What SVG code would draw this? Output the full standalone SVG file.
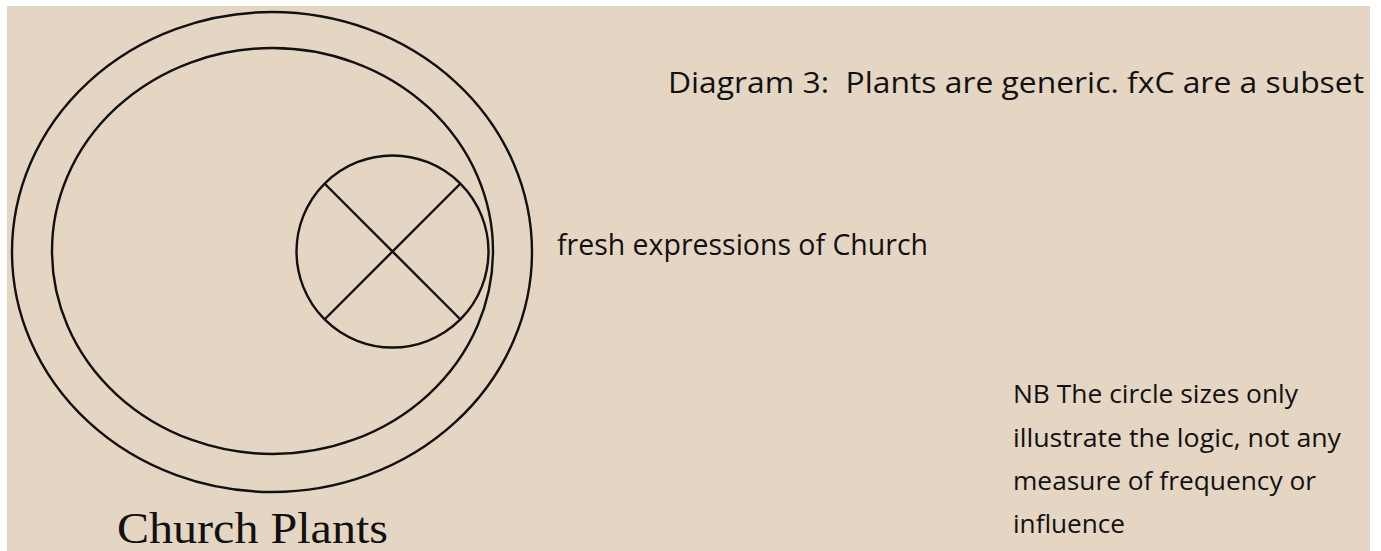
<svg xmlns="http://www.w3.org/2000/svg" width="1381" height="551" viewBox="0 0 1381 551">
<style>
.ln{fill:none;stroke:#111;stroke-width:2.4}
.sans{font-family:"Open Sans","Liberation Sans",sans-serif;fill:#111}
.serif{font-family:"Liberation Serif","Times New Roman",serif;fill:#111}
</style>
<rect x="0" y="0" width="1381" height="551" fill="#ffffff"/>
<rect x="7" y="6" width="1363" height="545" fill="#e5d5c3"/>
<g id="church-plants">
<ellipse class="ln" cx="272" cy="252" rx="260" ry="240"/>
<text class="serif" x="117" y="543" font-size="45" textLength="271" lengthAdjust="spacingAndGlyphs">Church Plants</text>
</g>
<g id="plants-inner">
<ellipse class="ln" cx="272.5" cy="251" rx="220.5" ry="203"/>
</g>
<g id="fxc">
<circle class="ln" cx="392.5" cy="251.5" r="96"/>
<line class="ln" x1="325" y1="184" x2="460" y2="319"/>
<line class="ln" x1="460" y1="184" x2="325" y2="319"/>
</g>
<g id="labels">
<text class="sans" x="668" y="93" font-size="29" textLength="696" lengthAdjust="spacingAndGlyphs">Diagram 3:&#160; Plants are generic. fxC are a subset</text>
<text class="sans" x="557" y="255" font-size="29" textLength="371" lengthAdjust="spacingAndGlyphs">fresh expressions of Church</text>
<text class="sans" font-size="26">
<tspan x="1013" y="403" textLength="285" lengthAdjust="spacingAndGlyphs">NB The circle sizes only</tspan>
<tspan x="1013" y="447" textLength="328" lengthAdjust="spacingAndGlyphs">illustrate the logic, not any</tspan>
<tspan x="1013" y="490" textLength="303" lengthAdjust="spacingAndGlyphs">measure of frequency or</tspan>
<tspan x="1013" y="533" textLength="112" lengthAdjust="spacingAndGlyphs">influence</tspan>
</text>
</g>
<g id="connectors"></g>
</svg>
